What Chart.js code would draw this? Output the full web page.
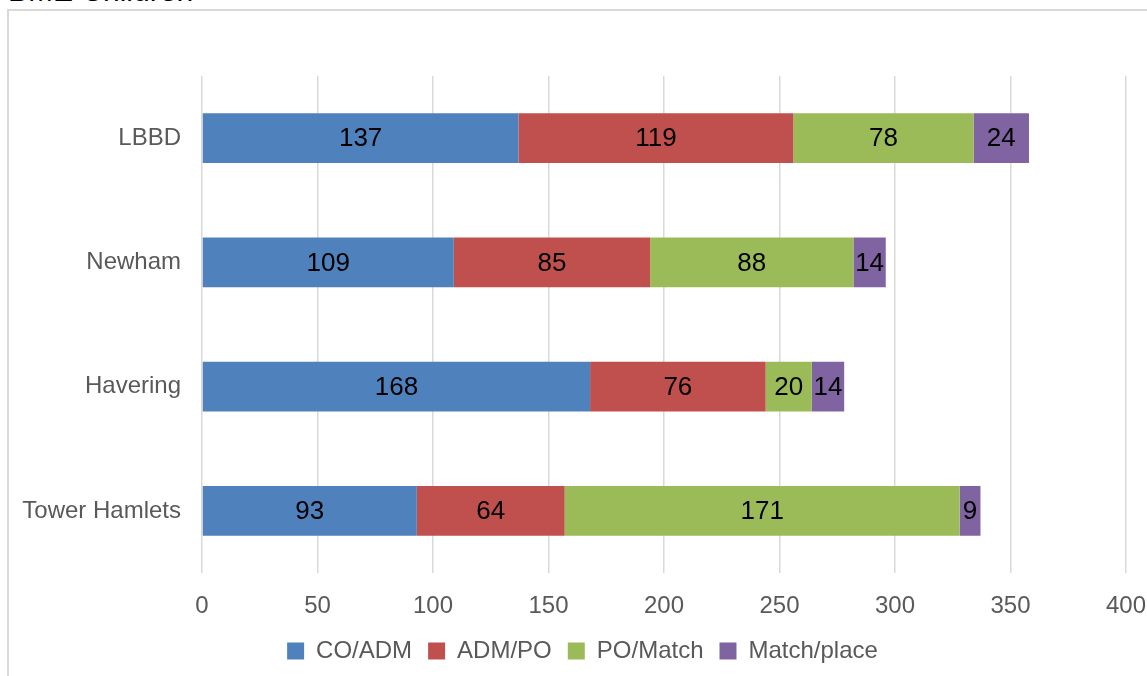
<!DOCTYPE html>
<html>
<head>
<meta charset="utf-8">
<script src="https://cdn.jsdelivr.net/npm/chart.js@4/dist/chart.umd.min.js"></script>
<style>
  html, body { margin: 0; padding: 0; background: #fff; overflow: hidden; }
  #wrap { position: relative; width: 1147px; height: 676px; overflow: hidden; }
  #frame { position: absolute; left: 7px; top: 9px; width: 1200px; height: 720px;
           border: 2px solid #d9d9d9; box-sizing: border-box; }
  #title { position: absolute; left: 8px; top: -24px; font: 30px/30px "Liberation Sans", Arial, sans-serif;
           color: #000; white-space: nowrap; }
  #chart { position: absolute; left: 0; top: 0; }
</style>
</head>
<body>
<div id="wrap">
  <div id="frame"></div>
  <div id="title">BME Children</div>
  <canvas id="chart" width="1147" height="676"></canvas>
</div>
<script>
const boroughs = ['LBBD', 'Newham', 'Havering', 'Tower Hamlets'];
const coAdm = [137, 109, 168, 93];
const admPo = [119, 85, 76, 64];
const poMatch = [78, 88, 20, 171];
const matchPlace = [24, 14, 14, 9];
const xTicks = [0, 50, 100, 150, 200, 250, 300, 350, 400];

const FONT = '"Liberation Sans", Arial, sans-serif';

// write each segment's value in the middle of its bar
const barLabels = {
  id: 'barLabels',
  afterDatasetsDraw(chart) {
    const ctx = chart.ctx;
    ctx.save();
    ctx.font = '26px ' + FONT;
    ctx.fillStyle = '#000';
    ctx.textAlign = 'center';
    ctx.textBaseline = 'middle';
    chart.data.datasets.forEach((ds, i) => {
      chart.getDatasetMeta(i).data.forEach((bar, j) => {
        const cx = (bar.x + bar.base) / 2;
        ctx.fillText(ds.data[j], cx, bar.y + 1);
      });
    });
    ctx.restore();
  }
};

const ctx = document.getElementById('chart').getContext('2d');
new Chart(ctx, {
  type: 'bar',
  data: {
    labels: boroughs,
    datasets: [
      { label: 'CO/ADM', data: coAdm, backgroundColor: '#4f81bd' },
      { label: 'ADM/PO', data: admPo, backgroundColor: '#c0504d' },
      { label: 'PO/Match', data: poMatch, backgroundColor: '#9bbb59' },
      { label: 'Match/place', data: matchPlace, backgroundColor: '#8064a2' }
    ]
  },
  options: {
    indexAxis: 'y',
    responsive: false,
    animation: false,
    barPercentage: 0.8,
    categoryPercentage: 0.5,
    layout: { padding: { top: 76, right: 0, left: 18, bottom: 3 } },
    scales: {
      x: {
        stacked: true,
        min: 0,
        max: 400,
        afterBuildTicks: axis => { axis.ticks = xTicks.map(v => ({ value: v })); },
        afterFit: axis => {
          axis.height = 50;
          axis.paddingRight = 21;  // room for the "400" label only
        },
        grid: { color: '#d9d9d9', lineWidth: 1.5, drawTicks: false },
        border: { display: false },
        ticks: { padding: 19, color: '#595959', font: { family: FONT, size: 24 } }
      },
      y: {
        stacked: true,
        afterFit: axis => { axis.width = 184; },
        grid: { display: false, drawTicks: false },
        border: { display: false },
        ticks: { padding: 21, color: '#595959', font: { family: FONT, size: 24 } }
      }
    },
    plugins: {
      legend: {
        position: 'bottom',
        labels: {
          boxWidth: 17,
          boxHeight: 17,
          padding: 16,
          color: '#595959',
          font: { family: FONT, size: 24 }
        }
      },
      tooltip: { enabled: false }
    }
  },
  plugins: [barLabels]
});
</script>
</body>
</html>
